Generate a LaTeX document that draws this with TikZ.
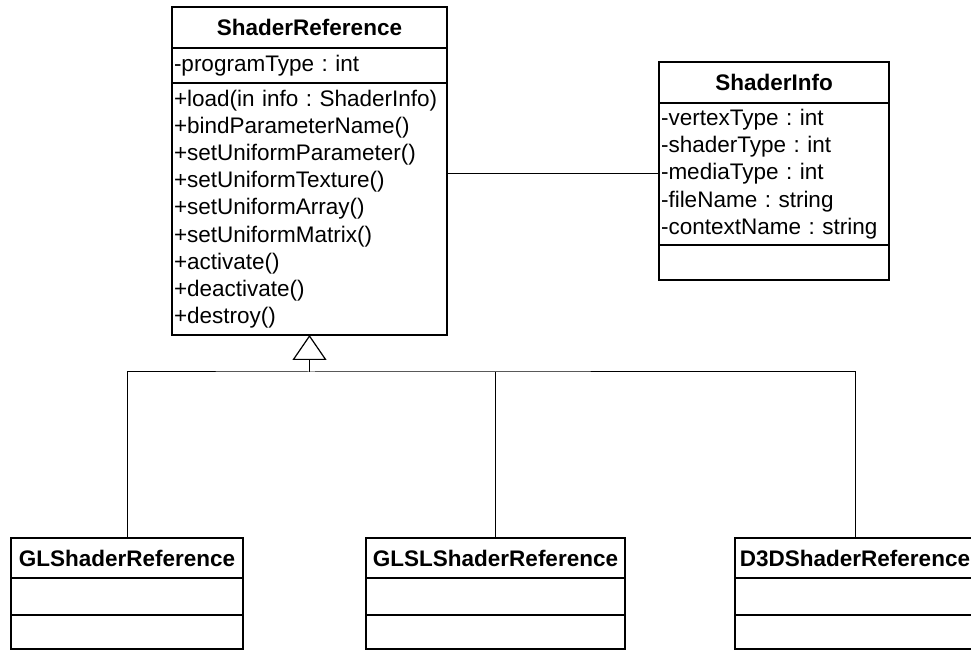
\documentclass[tikz,border=0pt]{standalone}
\usepackage{fontspec}
\newfontfamily\umlfont{Liberation Sans}
\usetikzlibrary{positioning,arrows.meta}
\frenchspacing

\tikzset{
  compart/.style={draw, line width=1.2pt, outer sep=0pt, inner xsep=2pt, inner ysep=0pt,
    align=left, font=\umlfont\fontsize{22.5pt}{27.2pt}\selectfont},
  classname/.style={compart, align=center,
    font=\umlfont\bfseries\fontsize{22.5pt}{27.2pt}\selectfont},
  link/.style={line width=1pt},
  inherit/.style={link, -{Triangle[open, length=25pt, width=34pt, line width=1.2pt]}}
}

\begin{document}
\begin{tikzpicture}[x=1pt, y=1pt]
      \useasboundingbox (0,0) rectangle (971,650);

      \node[classname, text width=271pt, minimum height=41pt, anchor=north west] (sr-title) at (172,643) {ShaderReference};
      \node[compart, text width=271pt, minimum height=35pt, below=0pt of sr-title] (sr-attr) {-programType : int};
      \node[compart, text width=271pt, minimum height=252pt, below=0pt of sr-attr] (sr-ops)
        {+load(in info : ShaderInfo)\\+bindParameterName()\\+setUniformParameter()\\+setUniformTexture()\\%
         +setUniformArray()\\+setUniformMatrix()\\+activate()\\+deactivate()\\+destroy()};

      \node[classname, text width=226pt, minimum height=41pt, anchor=north west] (si-title) at (659,588) {ShaderInfo};
      \node[compart, text width=226pt, minimum height=142pt, below=0pt of si-title] (si-attr)
        {-vertexType : int\\-shaderType : int\\-mediaType : int\\-fileName : string\\-contextName : string};
      \node[compart, text width=226pt, minimum height=35pt, below=0pt of si-attr] (si-ops) {};

      \draw[link] (si-attr.west) -- (si-attr.west -| sr-ops.east);

      % subclasses
      \foreach \name/\cname/\x/\w in {gl/GLShaderReference/11/228, glsl/GLSLShaderReference/366/255,
                                      d3d/D3DShaderReference/735/236} {
        \node[classname, text width=\w pt, minimum height=40pt, anchor=north west] (\name-title) at (\x,112) {\cname};
        \node[compart, text width=\w pt, minimum height=37pt, below=0pt of \name-title] (\name-attr) {};
        \node[compart, text width=\w pt, minimum height=34pt, below=0pt of \name-attr] (\name-ops) {};
      }

      \coordinate (bus) at ([yshift=-37pt]sr-ops.south);
      \draw[link] (gl-title.north) |- (bus) -| (d3d-title.north);
      \draw[link] (glsl-title.north) -- (glsl-title.north |- bus);
      \draw[inherit] (bus) -- (sr-ops.south);
    \end{tikzpicture}
\end{document}
